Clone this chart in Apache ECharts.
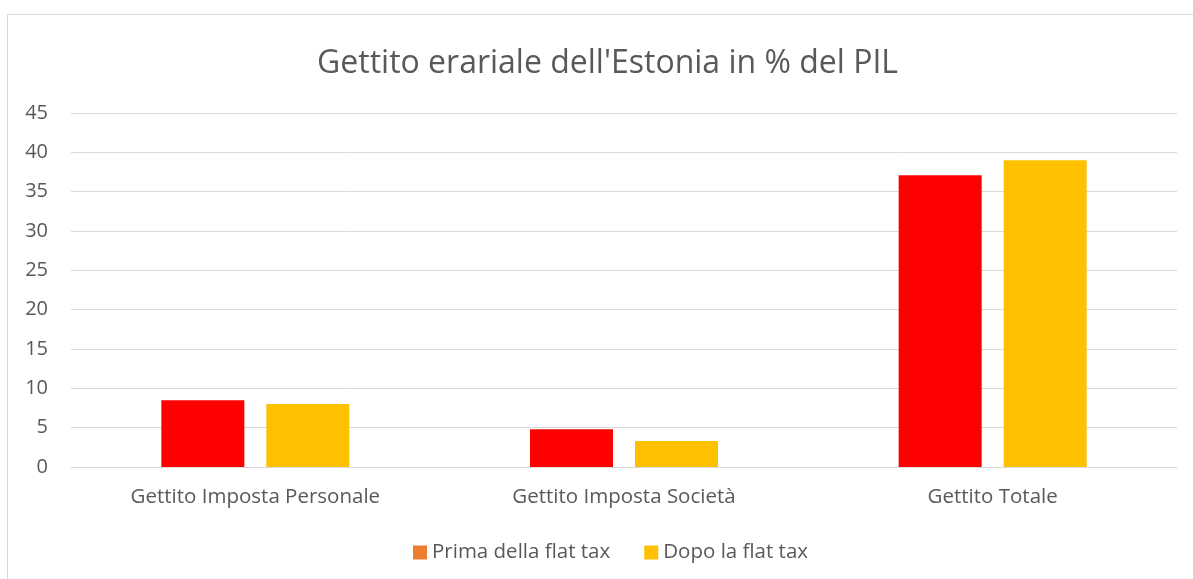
<!DOCTYPE html>
<html><head><meta charset="utf-8">
<script src="https://cdn.jsdelivr.net/npm/echarts@6/dist/echarts.min.js"></script>
<style>html,body{margin:0;padding:0;background:#fff}#c{width:1193px;height:579px}</style>
</head><body><div id="c"></div>
<script>
const categories = ['Gettito Imposta Personale', 'Gettito Imposta Società', 'Gettito Totale'];
const prima = [8.5, 4.8, 37.1];
const dopo = [8.0, 3.3, 39.0];
const seriesNames = ['Prima della flat tax', 'Dopo la flat tax'];
const titleText = "Gettito erariale dell'Estonia in % del PIL";

const FONT = 'Open Sans';
const chart = echarts.init(document.getElementById('c'));
chart.setOption({
  animation: false,
  textStyle: { fontFamily: FONT },
  graphic: [{
    type: 'rect', shape: { x: 7.5, y: 14.5, width: 1300, height: 700 },
    style: { fill: 'none', stroke: '#D9D9D9', lineWidth: 1 }, silent: true
  }],
  title: {
    text: titleText, left: 312, top: 43,
    textStyle: { fontFamily: FONT, fontSize: 32, fontWeight: 'normal', color: '#595959' }
  },
  legend: {
    bottom: 11, left: 408, itemWidth: 14, itemHeight: 14, itemGap: 34,
    icon: 'rect',
    textStyle: { fontFamily: FONT, fontSize: 20.5, color: '#595959' },
    data: [
      { name: seriesNames[0], itemStyle: { color: '#ED7D31' } },
      { name: seriesNames[1], itemStyle: { color: '#FFC000' } }
    ]
  },
  grid: { left: 71, right: 16, top: 113, bottom: 112, containLabel: false },
  xAxis: {
    type: 'category', data: categories,
    axisLine: { lineStyle: { color: '#D9D9D9', width: 1 } },
    axisTick: { show: false },
    axisLabel: { fontFamily: FONT, fontSize: 20.5, color: '#595959', margin: 20 }
  },
  yAxis: {
    type: 'value', min: 0, max: 45, interval: 5,
    axisLine: { show: false }, axisTick: { show: false },
    splitLine: { lineStyle: { color: '#D9D9D9', width: 1 } },
    axisLabel: { fontFamily: FONT, fontSize: 20, color: '#595959', margin: 23 }
  },
  series: [
    { name: seriesNames[0], type: 'bar', data: prima, barWidth: 83, barGap: '26.5%',
      itemStyle: { color: '#FF0000' } },
    { name: seriesNames[1], type: 'bar', data: dopo, barWidth: 83,
      itemStyle: { color: '#FFC000' } }
  ]
});
</script></body></html>
